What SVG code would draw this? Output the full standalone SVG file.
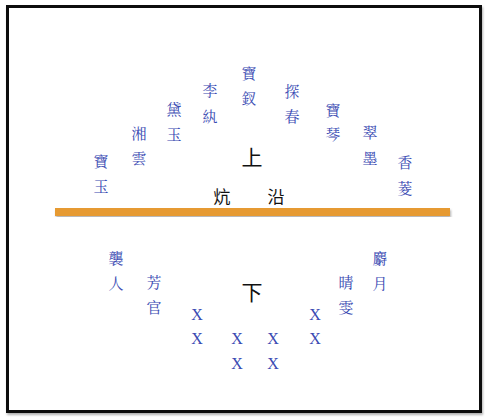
<svg xmlns="http://www.w3.org/2000/svg" width="486" height="419" viewBox="0 0 486 419">
<defs>
<filter id="sh" x="-5%" y="-5%" width="110%" height="110%"><feDropShadow dx="1" dy="2" stdDeviation="1.2" flood-color="#000" flood-opacity="0.3"/></filter>
</defs>
<style>
.n{font-family:"Noto Serif CJK TC","Noto Sans CJK TC",serif;font-size:15px;fill:#3a4bb3;text-anchor:middle;dominant-baseline:central}
.x{font-family:"Liberation Serif",serif;font-size:16px;fill:#3a4bb3;text-anchor:middle;dominant-baseline:central}
.b{font-family:"Noto Sans CJK TC",sans-serif;fill:#111;text-anchor:middle;dominant-baseline:central}
</style>
<rect x="0" y="0" width="486" height="419" fill="#fff"/>
<rect id="frame" x="7.5" y="6.5" width="473" height="405" fill="#fff" stroke="#111" stroke-width="3" filter="url(#sh)"/>
<g id="bar"><rect x="55" y="208" width="395" height="8" fill="#e69a32" filter="url(#sh)"/></g>
<g id="labels-big">
<text class="b" x="252" y="156" font-size="21">上</text>
<text class="b" x="222" y="195" font-size="17">炕</text>
<text class="b" x="276" y="195" font-size="17">沿</text>
<text class="b" x="252" y="291" font-size="21">下</text>
</g>
<g id="baoyu"><text class="n" x="101" y="160">寶</text><text class="n" x="101" y="185">玉</text></g>
<g id="xiangyun"><text class="n" x="139" y="132">湘</text><text class="n" x="139" y="157">雲</text></g>
<g id="daiyu"><text class="n" x="174" y="108">黛</text><text class="n" x="174" y="133">玉</text></g>
<g id="liwan"><text class="n" x="210" y="89">李</text><text class="n" x="210" y="115">紈</text></g>
<g id="baochai"><text class="n" x="249" y="72">寶</text><text class="n" x="249" y="97">釵</text></g>
<g id="tanchun"><text class="n" x="292" y="90">探</text><text class="n" x="292" y="115">春</text></g>
<g id="baoqin"><text class="n" x="333" y="109">寶</text><text class="n" x="333" y="133">琴</text></g>
<g id="cuimo"><text class="n" x="370" y="131">翠</text><text class="n" x="370" y="157">墨</text></g>
<g id="xiangling"><text class="n" x="405" y="161">香</text><text class="n" x="405" y="187">菱</text></g>
<g id="xiren"><text class="n" x="116" y="257">襲</text><text class="n" x="116" y="282">人</text></g>
<g id="fangguan"><text class="n" x="154" y="281">芳</text><text class="n" x="154" y="306">官</text></g>
<g id="sheyue"><text class="n" x="380" y="257">麝</text><text class="n" x="380" y="282">月</text></g>
<g id="qingwen"><text class="n" x="346" y="281">晴</text><text class="n" x="346" y="306">雯</text></g>
<g id="xs">
<text class="x" x="197" y="314">X</text><text class="x" x="197" y="338">X</text>
<text class="x" x="237" y="338">X</text><text class="x" x="237" y="363">X</text>
<text class="x" x="273" y="338">X</text><text class="x" x="273" y="363">X</text>
<text class="x" x="315" y="314">X</text><text class="x" x="315" y="338">X</text>
</g>
<g id="connectors"/>
</svg>
